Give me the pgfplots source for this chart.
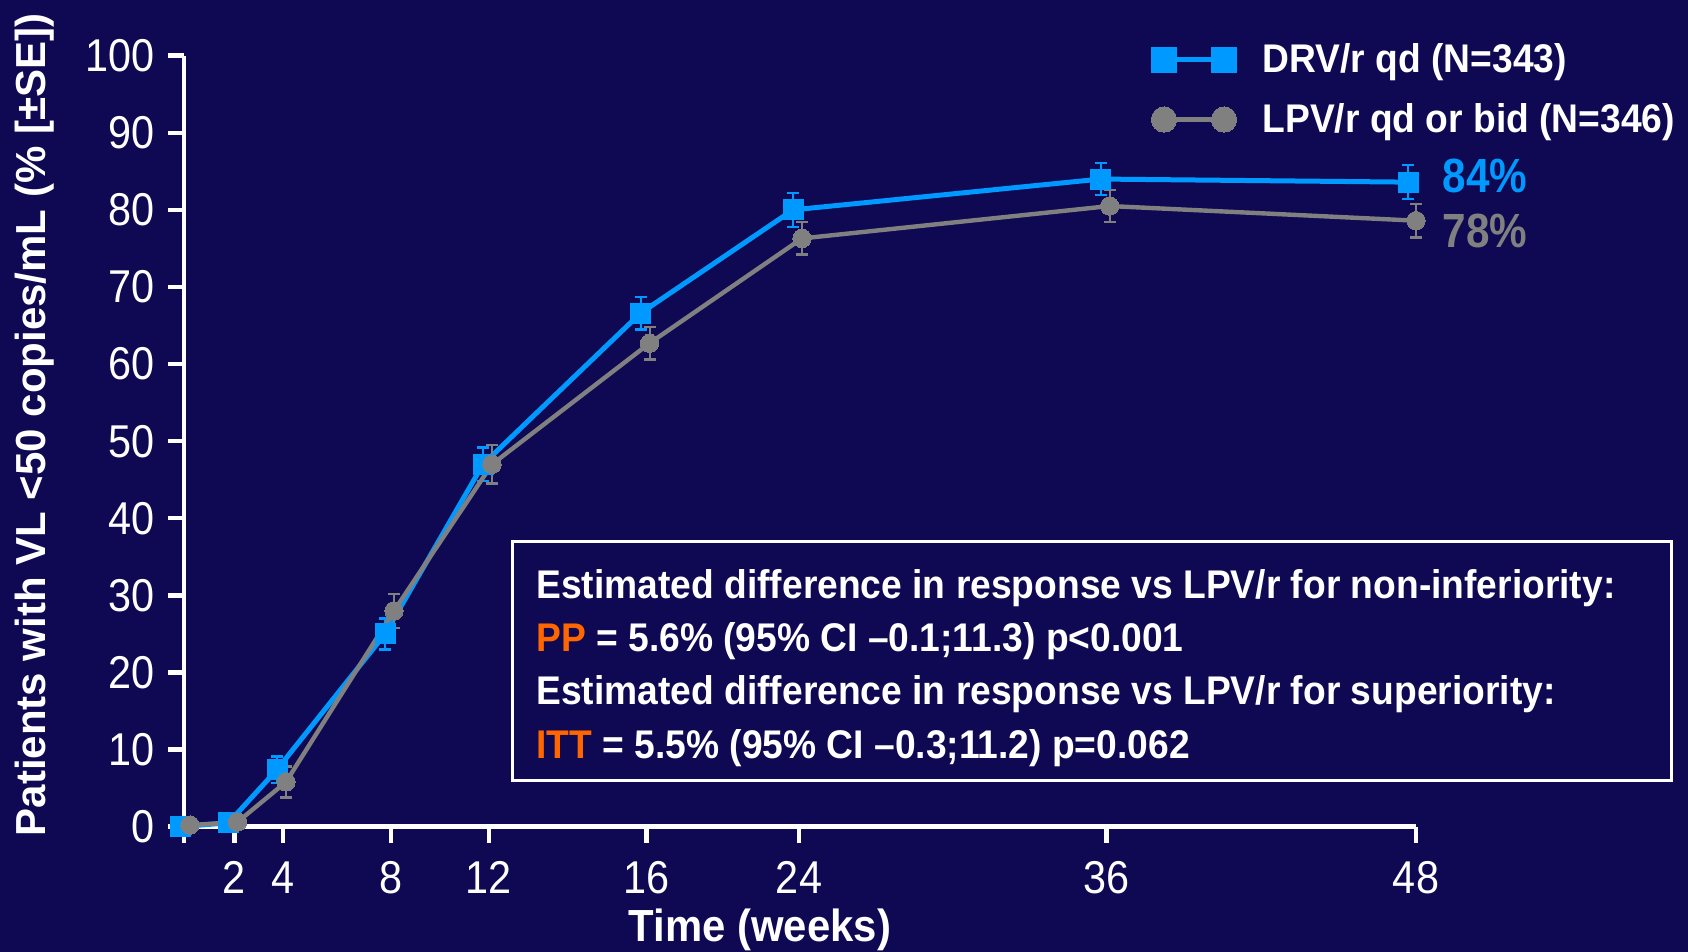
\documentclass[border=0pt]{standalone}
\usepackage{fontspec}
\setmainfont{Liberation Sans}[FakeStretch=0.93]
\newfontfamily\plainfont{Liberation Sans}
\newfontfamily\tickfont{Liberation Sans}[FakeStretch=0.9]
\newfontfamily\pctfont{Liberation Sans}[FakeStretch=0.88]
\usepackage{pgfplots}
\usepackage{pgfplotstable}
\pgfplotsset{compat=1.18}
\definecolor{bg}{RGB}{14,9,82}
\definecolor{drv}{RGB}{0,153,255}
\definecolor{lpv}{RGB}{128,128,128}
\definecolor{orng}{RGB}{255,102,0}

% x = horizontal position on the chart's own (non-linear) week scale
\pgfplotstableread{
x      y     e
180    0.0   0.0
228.5  0.5   0.3
277    7.4   1.7
385    25.0  2.0
483    47.0  2.2
640.5  66.6  2.1
793    80.0  2.2
1100.6 84.0  2.1
1408   83.6  2.2
}\drv
\pgfplotstableread{
x      y     e
190    0.2   0.0
237.5  0.6   0.3
286    5.8   2.0
394    28.0  2.2
492    47.0  2.5
649.5  62.7  2.1
802    76.3  2.1
1109.6 80.5  2.1
1416   78.6  2.2
}\lpv

\begin{document}
\begin{tikzpicture}[x=1pt,y=1pt]
\fill[bg] (0,0) rectangle (844,476);
\useasboundingbox (0,0) rectangle (844,476);
\begin{axis}[
  at={(92pt,62.65pt)}, anchor=south west,
  scale only axis, width=616pt, height=385.5pt,
  xmin=184, xmax=1416, ymin=0, ymax=100,
  clip=false,
  axis x line*=bottom, axis y line*=left,
  axis line style={white, line width=2.2pt, -},
  xtick={184,234.5,283,391,489,646.5,799,1106.6,1416},
  xticklabels={,2,4,8,12,16,24,36,48},
  ytick={0,10,...,100},
  tick align=outside, major tick length=8pt,
  tick style={white, line width=2.2pt},
  ticklabel style={font=\tickfont\fontsize{23}{27}\selectfont, text=white},
  xticklabel style={yshift=-6pt},
  yticklabel style={xshift=-3pt},
  /pgf/number format/assume math mode=true,
  legend style={at={(axis cs:1151,102.1)}, anchor=north west, draw=none, fill=none,
     text=white, font=\bfseries\fontsize{20}{24}\selectfont, inner sep=0pt,
     row sep=9.8pt, nodes={inner sep=2pt},
     /tikz/every odd column/.append style={column sep=11pt}},
  legend cell align=left,
  legend image code/.code={\draw[mark repeat=2, mark phase=1, #1, mark size=6.3pt] plot coordinates {(0pt,0pt) (15pt,0pt) (30pt,0pt)};},
]
\addplot[drv, line width=2.5pt, mark=square*, mark size=5pt,
  mark options={solid, fill=drv, draw=drv, line width=0pt},
  error bars/.cd, y dir=both, y explicit,
  error bar style={line width=1pt, drv},
  error mark options={rotate=90, mark size=3pt, line width=1.2pt, drv}]
  table[x=x, y=y, y error=e] {\drv};
\addlegendentry{DRV/r qd (N=343)}
\addplot[lpv, line width=2.2pt, mark=*, mark size=4.6pt,
  mark options={solid, fill=lpv, draw=lpv, line width=0pt},
  error bars/.cd, y dir=both, y explicit,
  error bar style={line width=1pt, lpv},
  error mark options={rotate=90, mark size=3pt, line width=1.2pt, lpv}]
  table[x=x, y=y, y error=e] {\lpv};
\addlegendentry{LPV/r qd or bid (N=346)}
\end{axis}
% annotation box
\draw[white, line width=1.6pt] (256.2,85.75) rectangle (835.9,205.25);
\begin{scope}[every node/.style={anchor=base west, inner sep=0pt, text=white, font=\bfseries\fontsize{20}{24}\selectfont}]
\node at (268,176.75) {Estimated difference in response vs LPV/r for non-inferiority:};
\node at (268,150.4) {\textcolor{orng}{PP} = 5.6\% (95\% CI \textendash0.1;11.3) p<0.001};
\node at (268,123.5) {Estimated difference in response vs LPV/r for superiority:};
\node at (268,96.5) {\textcolor{orng}{ITT} = 5.5\% (95\% CI \textendash0.3;11.2) p=0.062};
\end{scope}
\node[anchor=base west, inner sep=0pt, text=drv, font=\pctfont\bfseries\fontsize{24}{28}\selectfont] at (721.2,379.6) {84\%};
\node[anchor=base west, inner sep=0pt, text=lpv, font=\pctfont\bfseries\fontsize{24}{28}\selectfont] at (721.2,352.4) {78\%};
\node[rotate=90, inner sep=0pt, text=white, font=\plainfont\bfseries\fontsize{21}{25}\selectfont] at (17.2,263.5) {Patients with VL <50 copies/mL (\% [±SE])};
\node[anchor=base, inner sep=0pt, text=white, font=\bfseries\fontsize{22.5}{26}\selectfont] at (380,5) {Time (weeks)};
\end{tikzpicture}
\end{document}
